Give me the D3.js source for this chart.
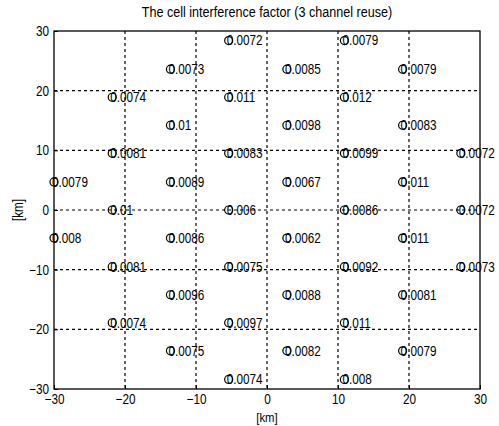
<!DOCTYPE html>
<html>
<head>
<meta charset="utf-8">
<script src="https://cdn.jsdelivr.net/npm/d3@7"></script>
<style>
  body { margin: 0; background: #fff; }
  text { font-family: "Liberation Sans", Arial, sans-serif; fill: #000; }
</style>
</head>
<body>
<svg id="chart"></svg>
<script>
// cell centres [km]
var cellX = [-5.4, 10.9,
    -13.6, 2.8, 19.1,
    -21.8, -5.4, 10.9,
    -13.6, 2.8, 19.1,
    -21.8, -5.4, 10.9, 27.3,
    -30, -13.6, 2.8, 19.1,
    -21.8, -5.4, 10.9, 27.3,
    -30, -13.6, 2.8, 19.1,
    -21.8, -5.4, 10.9, 27.3,
    -13.6, 2.8, 19.1,
    -21.8, -5.4, 10.9,
    -13.6, 2.8, 19.1,
    -5.4, 10.9];
var cellY = [28.4, 28.4,
    23.6, 23.6, 23.6,
    18.9, 18.9, 18.9,
    14.2, 14.2, 14.2,
    9.5, 9.5, 9.5, 9.5,
    4.7, 4.7, 4.7, 4.7,
    0, 0, 0, 0,
    -4.7, -4.7, -4.7, -4.7,
    -9.5, -9.5, -9.5, -9.5,
    -14.2, -14.2, -14.2,
    -18.9, -18.9, -18.9,
    -23.6, -23.6, -23.6,
    -28.4, -28.4];
var cellLabels = ["0.0072", "0.0079",
    "0.0073", "0.0085", "0.0079",
    "0.0074", "0.011", "0.012",
    "0.01", "0.0098", "0.0083",
    "0.0081", "0.0083", "0.0099", "0.0072",
    "0.0079", "0.0089", "0.0067", "0.011",
    "0.01", "0.006", "0.0086", "0.0072",
    "0.008", "0.0086", "0.0062", "0.011",
    "0.0081", "0.0075", "0.0092", "0.0073",
    "0.0096", "0.0088", "0.0081",
    "0.0074", "0.0097", "0.011",
    "0.0075", "0.0082", "0.0079",
    "0.0074", "0.008"];
var tickValues = [-30, -20, -10, 0, 10, 20, 30];

var dimensions = {
    width: 499,
    height: 426,
    margin: { top: 31, bottom: 37, left: 54, right: 19 }
};
var squeeze = 0.84; // the original font is a narrow Helvetica

var svg = d3.select("#chart")
    .attr("width", dimensions.width)
    .attr("height", dimensions.height);

var xScale = d3.scaleLinear()
    .domain([-30, 30])
    .range([dimensions.margin.left, dimensions.width - dimensions.margin.right]);

var yScale = d3.scaleLinear()
    .domain([-30, 30])
    .range([dimensions.height - dimensions.margin.bottom, dimensions.margin.top]);

var x0 = xScale.range()[0], x1 = xScale.range()[1];
var y0 = yScale.range()[0], y1 = yScale.range()[1];

// dotted grid
svg.append("g")
    .selectAll("line")
    .data(tickValues.slice(1, -1))
    .enter()
    .append("line")
    .attr("x1", d => xScale(d)).attr("x2", d => xScale(d))
    .attr("y1", y1).attr("y2", y0)
    .attr("stroke", "#000").attr("stroke-width", 1.2)
    .attr("stroke-dasharray", "3,3");

svg.append("g")
    .selectAll("line")
    .data(tickValues.slice(1, -1))
    .enter()
    .append("line")
    .attr("x1", x0).attr("x2", x1)
    .attr("y1", d => yScale(d)).attr("y2", d => yScale(d))
    .attr("stroke", "#000").attr("stroke-width", 1.2)
    .attr("stroke-dasharray", "3,3");

// axes
var xAxis = d3.axisBottom(xScale).tickValues(tickValues).tickSizeInner(-4).tickSizeOuter(0).tickPadding(5);
var yAxis = d3.axisLeft(yScale).tickValues(tickValues).tickSizeInner(-4).tickSizeOuter(0).tickPadding(6);

var gx = svg.append("g")
    .attr("transform", `translate(0, ${y0})`)
    .call(xAxis);
var gy = svg.append("g")
    .attr("transform", `translate(${x0}, 0)`)
    .call(yAxis);

[gx, gy].forEach(g => {
    g.attr("font-family", null);
    g.selectAll("text")
        .attr("font-size", 14)
        .attr("transform", `scale(${squeeze}, 1)`);
    g.select(".domain").remove();
    g.selectAll(".tick line").attr("stroke", "#000");
});

// box
svg.append("rect")
    .attr("x", x0).attr("y", y1)
    .attr("width", x1 - x0).attr("height", y0 - y1)
    .attr("fill", "none").attr("stroke", "#000").attr("stroke-width", 1.3);

// markers and labels
var cells = cellX.map((x, i) => ({ x: x, y: cellY[i], label: cellLabels[i] }));

svg.append("g")
    .selectAll("circle")
    .data(cells)
    .enter()
    .append("circle")
    .attr("cx", d => xScale(d.x))
    .attr("cy", d => yScale(d.y))
    .attr("r", 4)
    .attr("fill", "none")
    .attr("stroke", "#000")
    .attr("stroke-width", 1.2);

svg.append("g")
    .selectAll("text")
    .data(cells)
    .enter()
    .append("text")
    .attr("transform", d => `translate(${xScale(d.x) - 2}, ${yScale(d.y)}) scale(${squeeze}, 1)`)
    .attr("dy", "0.35em")
    .attr("font-size", 14)
    .text(d => d.label);

// titles
svg.append("text")
    .attr("transform", `translate(${(x0 + x1) / 2}, 17) scale(${squeeze}, 1)`)
    .attr("text-anchor", "middle")
    .attr("font-size", 15)
    .text("The cell interference factor (3 channel reuse)");

svg.append("text")
    .attr("transform", `translate(${(x0 + x1) / 2}, 422) scale(${squeeze}, 1)`)
    .attr("text-anchor", "middle")
    .attr("font-size", 13.5)
    .text("[km]");

svg.append("text")
    .attr("transform", `translate(23, ${(y0 + y1) / 2}) rotate(-90) scale(${squeeze}, 1)`)
    .attr("text-anchor", "middle")
    .attr("font-size", 14)
    .text("[km]");
</script>
</body>
</html>
